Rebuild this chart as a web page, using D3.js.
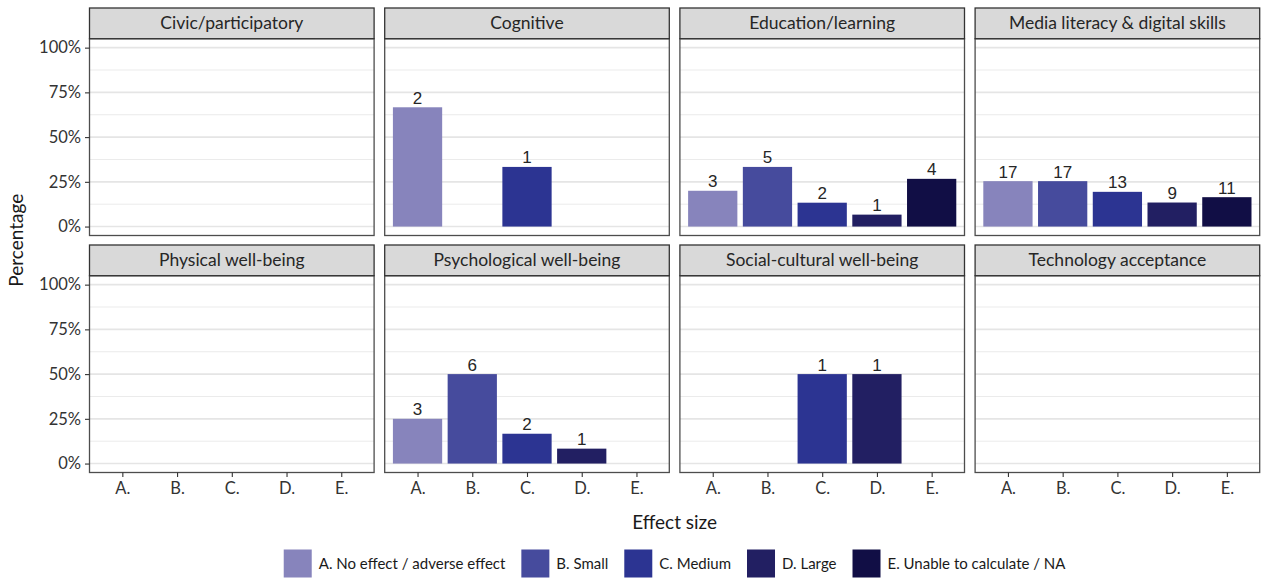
<!DOCTYPE html>
<html>
<head>
<meta charset="utf-8">
<script src="https://cdn.jsdelivr.net/npm/d3@7"></script>
<style>
  html, body { margin: 0; padding: 0; background: #ffffff; }
  svg { display: block; }
</style>
</head>
<body>
<svg id="chart" width="1261" height="578"></svg>
<script>
// Outcome domains, one facet each (row-major order)
const domains = [
  "Civic/participatory", "Cognitive", "Education/learning", "Media literacy & digital skills",
  "Physical well-being", "Psychological well-being", "Social-cultural well-being", "Technology acceptance"
];
// Effect-size categories
const effectCodes = ["A.", "B.", "C.", "D.", "E."];
const effectLabels = [
  "A. No effect / adverse effect", "B. Small", "C. Medium", "D. Large", "E. Unable to calculate / NA"
];
const effectColors = ["#8784bc", "#464b9d", "#2c3492", "#221f62", "#110e45"];
// Number of studies per domain, in effect-size order A..E
const countsCivic       = [0, 0, 0, 0, 0];
const countsCognitive   = [2, 0, 1, 0, 0];
const countsEducation   = [3, 5, 2, 1, 4];
const countsMedia       = [17, 17, 13, 9, 11];
const countsPhysical    = [0, 0, 0, 0, 0];
const countsPsych       = [3, 6, 2, 1, 0];
const countsSocial      = [0, 0, 1, 1, 0];
const countsTechnology  = [0, 0, 0, 0, 0];
const domainCounts = [countsCivic, countsCognitive, countsEducation, countsMedia,
                      countsPhysical, countsPsych, countsSocial, countsTechnology];
const yTicks = [0, 0.25, 0.5, 0.75, 1];
const yMinor = [0.125, 0.375, 0.625, 0.875];

const svg = d3.select("#chart");
const FONT = "Lato, 'Open Sans', sans-serif";

// Facet grid geometry
const nCols = 4;
const panelW = 284.6, colGap = 10.6, left0 = 89.5;
const stripH = 30.7;
const rowTops = [8, 245];           // strip tops
const panelH = 196.8;

const y = d3.scaleLinear().domain([-0.05, 1.05]).range([panelH, 0]);
const x = d3.scalePoint().domain(effectCodes).range([0, panelW]).padding(0.6);
const barW = x.step() * 0.9;

domains.forEach((name, i) => {
  const col = i % nCols, row = Math.floor(i / nCols);
  const px = left0 + col * (panelW + colGap);
  const stripY = rowTops[row];
  const py = stripY + stripH;
  const counts = domainCounts[i];
  const total = d3.sum(counts);
  const rows = effectCodes.map((c, k) => ({
    code: c, k, n: counts[k], pct: total ? counts[k] / total : 0
  })).filter(d => d.n > 0);

  const g = svg.append("g").attr("transform", `translate(${px},${py})`);

  // grid lines
  g.selectAll("line.minor").data(yMinor).join("line")
    .attr("x1", 0).attr("x2", panelW)
    .attr("y1", d => y(d)).attr("y2", d => y(d))
    .attr("stroke", "#ebebeb").attr("stroke-width", 1);
  g.selectAll("line.major").data(yTicks).join("line")
    .attr("x1", 0).attr("x2", panelW)
    .attr("y1", d => y(d)).attr("y2", d => y(d))
    .attr("stroke", "#e5e5e5").attr("stroke-width", 1.6);

  // bars
  g.selectAll("rect.bar").data(rows).join("rect")
    .attr("x", d => x(d.code) - barW / 2)
    .attr("width", barW)
    .attr("y", d => y(d.pct))
    .attr("height", d => y(0) - y(d.pct))
    .attr("fill", d => effectColors[d.k]);

  // count labels
  g.selectAll("text.lab").data(rows).join("text")
    .attr("x", d => x(d.code))
    .attr("y", d => y(d.pct) - 3.5)
    .attr("text-anchor", "middle")
    .attr("font-family", "'Liberation Sans', Arial, sans-serif")
    .attr("font-size", 17)
    .attr("fill", "#262626")
    .text(d => d.n);

  // panel border
  g.append("rect").attr("x", 0).attr("y", 0).attr("width", panelW).attr("height", panelH)
    .attr("fill", "none").attr("stroke", "#4d4d4d").attr("stroke-width", 1.3);

  // strip
  svg.append("rect").attr("x", px).attr("y", stripY).attr("width", panelW).attr("height", stripH)
    .attr("fill", "#d9d9d9").attr("stroke", "#333333").attr("stroke-width", 1.3);
  svg.append("text").attr("x", px + panelW / 2).attr("y", stripY + stripH / 2)
    .attr("dy", "0.35em").attr("text-anchor", "middle")
    .attr("font-family", FONT).attr("font-size", 17.5).attr("fill", "#262626")
    .text(name);

  // y axis on first column
  if (col === 0) {
    const ya = g.append("g").call(d3.axisLeft(y).tickValues(yTicks)
      .tickFormat(d3.format(".0%")).tickSize(4.5).tickPadding(4));
    ya.select(".domain").remove();
    ya.selectAll("line").attr("stroke", "#333333").attr("stroke-width", 1.1);
    ya.selectAll("text").attr("font-family", FONT).attr("font-size", 16.5).attr("fill", "#333333");
  }
  // x axis on bottom row
  if (row === 1) {
    const xa = g.append("g").attr("transform", `translate(0,${panelH})`)
      .call(d3.axisBottom(x).tickSize(4.5).tickPadding(5));
    xa.select(".domain").remove();
    xa.selectAll("line").attr("stroke", "#333333").attr("stroke-width", 1.1);
    xa.selectAll("text").attr("font-family", FONT).attr("font-size", 16.5).attr("fill", "#333333");
  }
});

// axis titles
const plotCenter = left0 + (nCols * panelW + (nCols - 1) * colGap) / 2;
svg.append("text").attr("x", plotCenter).attr("y", 529)
  .attr("text-anchor", "middle").attr("font-family", FONT).attr("font-size", 19).attr("fill", "#1a1a1a")
  .text("Effect size");
svg.append("text")
  .attr("transform", `translate(23,${(rowTops[0] + rowTops[1] + stripH + panelH) / 2}) rotate(-90)`)
  .attr("text-anchor", "middle").attr("font-family", FONT).attr("font-size", 19).attr("fill", "#1a1a1a")
  .text("Percentage");

// legend
const keySize = 28, keyGap = 7, itemGap = 16, legendTop = 549.5;
const legend = svg.append("g");
const items = legend.selectAll("g").data(effectLabels).join("g");
items.append("rect").attr("width", keySize).attr("height", keySize)
  .attr("y", legendTop).attr("fill", (d, k) => effectColors[k]);
items.append("text").attr("x", keySize + keyGap).attr("y", legendTop + keySize / 2)
  .attr("dy", "0.35em").attr("font-family", FONT).attr("font-size", 15).attr("fill", "#1a1a1a")
  .text(d => d);
let cursor = 0;
items.each(function () {
  const w = d3.select(this).select("text").node().getComputedTextLength();
  d3.select(this).attr("transform", `translate(${cursor},0)`);
  cursor += keySize + keyGap + w + itemGap;
});
const legendW = cursor - itemGap;
legend.attr("transform", `translate(${plotCenter - legendW / 2},0)`);
</script>
</body>
</html>
